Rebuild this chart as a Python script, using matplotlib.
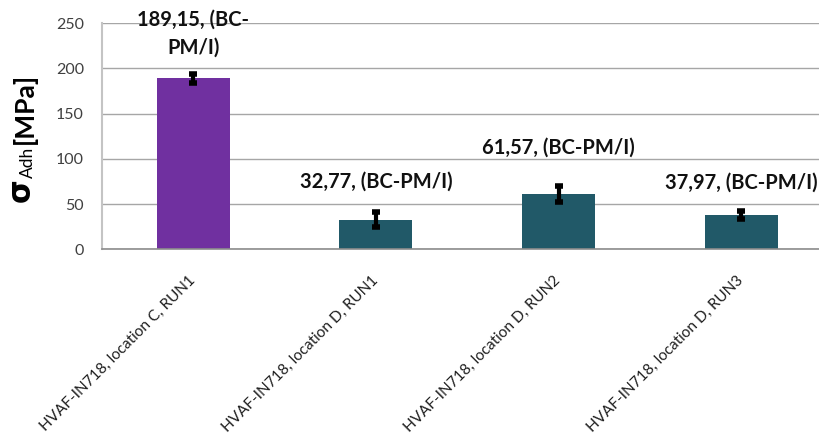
import matplotlib
matplotlib.use("Agg")
import matplotlib.pyplot as plt

plt.rcParams['font.family'] = ['Lato', 'DejaVu Sans']

# Adhesion strength per sample
categories = [
    "HVAF-IN718, location C, RUN1",
    "HVAF-IN718, location D, RUN1",
    "HVAF-IN718, location D, RUN2",
    "HVAF-IN718, location D, RUN3",
]
values = [189.15, 32.77, 61.57, 37.97]
errors = [5.0, 8.0, 9.0, 4.0]
failure_mode = ["BC-PM/I", "BC-PM/I", "BC-PM/I", "BC-PM/I"]
yticks = [0, 50, 100, 150, 200, 250]

bar_colors = ["#7030A0", "#215968", "#215968", "#215968"]
label_y = [238, 74.5, 112.5, 73.5]   # data-space height of each value label
label_wrap = [True, False, False, False]

W, H = 819, 448
fig = plt.figure(figsize=(W / 100, H / 100), dpi=100)
fig.patch.set_facecolor("white")


def fx(x):
    return x / W


def fy(y):
    return 1 - y / H


ax = fig.add_axes([fx(102), fy(249.3), 1 - fx(102), fy(23.3) - fy(249.3)])

x = list(range(len(categories)))
ax.bar(x, values, width=0.40, color=bar_colors, zorder=3)
ax.errorbar(x, values, yerr=errors, fmt="none", ecolor="black",
            elinewidth=3.0, capsize=3.2, capthick=4.0, zorder=4)

for xi, v, mode, ly, wrap in zip(x, values, failure_mode, label_y, label_wrap):
    num = f"{v:.2f}".replace(".", ",")
    if wrap:
        head, tail = mode.split("-", 1)
        txt = f"{num}, ({head}-\n{tail})"
    else:
        txt = f"{num}, ({mode})"
    ax.text(xi, ly, txt, ha="center", va="center", fontsize=14.5,
            fontweight="bold", color="#111111", linespacing=1.5, zorder=5)

ax.set_xlim(-0.5, (W - 193.3) / 182.6)
ax.set_ylim(0, 250)
ax.set_yticks(yticks)
ax.set_yticklabels([str(t) for t in yticks])
ax.yaxis.grid(True, color="#A6A6A6", linewidth=1.0, zorder=0)
ax.set_axisbelow(True)

for side in ("top", "right"):
    ax.spines[side].set_visible(False)
ax.spines["left"].set_color("#C4C4C4")
ax.spines["left"].set_linewidth(1.5)
ax.spines["bottom"].set_color("#8C8C8C")
ax.spines["bottom"].set_linewidth(1.2)
ax.spines["bottom"].set_zorder(6)

ax.tick_params(axis="y", length=0, pad=13, labelsize=11.5, labelcolor="#404040")
ax.tick_params(axis="x", length=0, pad=21, labelsize=11.0, labelcolor="#1f1f1f")
ax.set_xticks(x)
ax.set_xticklabels(categories, rotation=45, ha="right", va="center",
                   rotation_mode="anchor")

# Y-axis title: sigma with subscript and unit
fig.text(fx(21.5), fy(190), "σ", rotation=90, ha="center", va="center",
         fontsize=22, fontweight="bold", family="DejaVu Sans", color="black")
fig.text(fx(27.5), fy(162.5), "Adh", rotation=90, ha="center", va="center",
         fontsize=12.5, color="black")
fig.text(fx(24), fy(108), "[MPa]", rotation=90, ha="center", va="center",
         fontsize=19, fontweight="bold", color="black")

fig.savefig("out.png", dpi=100, facecolor="white")
